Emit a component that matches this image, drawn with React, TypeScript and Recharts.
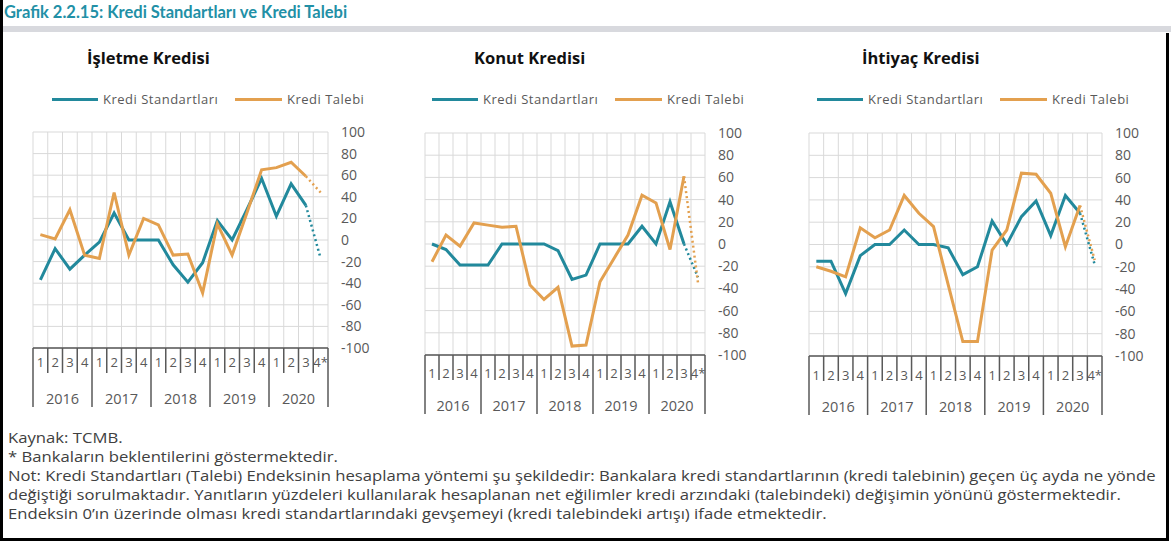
import React from 'react';
import { LineChart, Line, XAxis, YAxis, CartesianGrid } from 'recharts';

const quarterLabels = ['1', '2', '3', '4', '1', '2', '3', '4', '1', '2', '3', '4', '1', '2', '3', '4', '1', '2', '3', '4*'];
const years = ['2016', '2017', '2018', '2019', '2020'];
const yTicks = [-100, -80, -60, -40, -20, 0, 20, 40, 60, 80, 100];

// index 19 (2020 Q4*) is the banks' expectation, drawn dotted
const isletmeStandart = [-37, -8, -27, -14, -2, 25, 0, 0, 0, -23, -39, -21, 18, 0, 28, 57, 22, 52, 32, -17];
const isletmeTalep = [5, 1, 28, -14, -17, 44, -14, 20, 14, -14, -13, -49, 15, -14, 25, 65, 67, 72, 59, 44];
const konutStandart = [0, -5, -19, -19, -19, 0, 0, 0, 0, -6, -32, -28, 0, 0, 0, 16, 0, 38, 0, -30];
const konutTalep = [-16, 8, -2, 19, 17, 15, 16, -37, -50, -39, -92, -91, -34, -13, 8, 44, 37, -5, 61, -35];
const ihtiyacStandart = [-15, -15, -44, -10, 0, 0, 13, 0, 0, -3, -27, -20, 21, 0, 25, 39, 8, 44, 28, -18];
const ihtiyacTalep = [-20, -24, -29, 15, 6, 13, 44, 28, 16, -36, -87, -87, -5, 13, 64, 63, 46, -2, 35, -14];

const TEAL = '#22899c';
const ORANGE = '#e3a04f';
const FONT = '"Open Sans", sans-serif';
const TEXT_GRAY = '#404040';

const gridTicks = quarterLabels.map((_, i) => i - 0.5).concat(quarterLabels.length - 0.5);

type Panel = {
  title: string;
  std: number[];
  talep: number[];
  plotLeft: number;
  plotTop: number;
  plotW: number;
  plotH: number;
  qDy: number;
  titleX: number;
  legendX: number;
};

const panels: Panel[] = [
  { title: 'İşletme Kredisi', std: isletmeStandart, talep: isletmeTalep, plotLeft: 33, plotTop: 132, plotW: 295, plotH: 216, qDy: 14, titleX: 87, legendX: 52 },
  { title: 'Konut Kredisi', std: konutStandart, talep: konutTalep, plotLeft: 425, plotTop: 133, plotW: 280, plotH: 222, qDy: 18, titleX: 474, legendX: 432 },
  { title: 'İhtiyaç Kredisi', std: ihtiyacStandart, talep: ihtiyacTalep, plotLeft: 809, plotTop: 133, plotW: 293, plotH: 223, qDy: 19, titleX: 862, legendX: 817 },
];

const MT = 12;
const ML = 2;
const Y_W = 55;
const X_H = 66;

const makeTick = (step: number, qDy: number) => (props: any) => {
  const { x, y, payload } = props;
  const i = payload.value as number;
  const last = i === quarterLabels.length - 1;
  const yearStart = i % 4 === 0;
  return (
    <g>
      <line x1={x - step / 2} x2={x - step / 2} y1={y} y2={y + (yearStart ? 59 : 25)} stroke="#595959" strokeWidth={1.5} />
      {last && <line x1={x + step / 2} x2={x + step / 2} y1={y} y2={y + 59} stroke="#595959" strokeWidth={1.5} />}
      <text x={x} y={y + qDy} textAnchor="middle" dominantBaseline="central" fontSize={13} fill="#595959" fontFamily={FONT}>
        {quarterLabels[i]}
      </text>
      {yearStart && (
        <text x={x + step * 1.5} y={y + 50} textAnchor="middle" dominantBaseline="central" fontSize={14.5} fill="#595959" fontFamily={FONT}>
          {years[i / 4]}
        </text>
      )}
    </g>
  );
};

const CreditPanel = ({ p }: { p: Panel }) => {
  const n = quarterLabels.length;
  const data = quarterLabels.map((q, i) => ({
    i,
    q,
    std: i < n - 1 ? p.std[i] : null,
    talep: i < n - 1 ? p.talep[i] : null,
    stdExp: i >= n - 2 ? p.std[i] : null,
    talepExp: i >= n - 2 ? p.talep[i] : null,
  }));
  const step = p.plotW / n;
  const width = ML + p.plotW + Y_W;
  const height = MT + p.plotH + X_H;
  return (
    <>
      <div style={{ position: 'absolute', left: p.titleX, top: 46, fontFamily: FONT, fontWeight: 700, fontSize: 16.5, color: '#111', whiteSpace: 'nowrap' }}>
        {p.title}
      </div>
      <div style={{ position: 'absolute', left: p.legendX, top: 90, display: 'flex', alignItems: 'center', fontFamily: FONT, fontSize: 13, letterSpacing: 0.5, color: '#595959', whiteSpace: 'nowrap' }}>
        <span style={{ display: 'inline-block', width: 46, height: 3, background: TEAL, marginRight: 5 }} />
        <span style={{ display: 'inline-block', width: 132 }}>Kredi Standartları</span>
        <span style={{ display: 'inline-block', width: 47, height: 3, background: ORANGE, marginRight: 5 }} />
        <span>Kredi Talebi</span>
      </div>
      <div style={{ position: 'absolute', left: p.plotLeft - ML, top: p.plotTop - MT }}>
        <LineChart width={width} height={height} data={data} margin={{ top: MT, left: ML, right: 0, bottom: 0 }}>
          <CartesianGrid xAxisId="g" stroke="#d9d9d9" strokeWidth={1} />
          <XAxis
            xAxisId="q"
            dataKey="i"
            type="number"
            domain={[-0.5, n - 0.5]}
            ticks={data.map((d) => d.i)}
            interval={0}
            height={X_H}
            tickSize={0}
            tickMargin={0}
            tickLine={false}
            axisLine={{ stroke: '#595959', strokeWidth: 1.5 }}
            tick={makeTick(step, p.qDy)}
          />
          <XAxis xAxisId="g" dataKey="i" type="number" domain={[-0.5, n - 0.5]} ticks={gridTicks} interval={0} height={0} hide />
          <YAxis
            orientation="right"
            domain={[-100, 100]}
            ticks={yTicks}
            interval={0}
            width={Y_W}
            axisLine={false}
            tickLine={false}
            tickSize={0}
            tickMargin={13}
            tick={{ fontSize: 14, fill: '#595959', fontFamily: FONT }}
          />
          <Line xAxisId="q" dataKey="std" stroke={TEAL} strokeWidth={3} dot={false} isAnimationActive={false} />
          <Line xAxisId="q" dataKey="talep" stroke={ORANGE} strokeWidth={3} dot={false} isAnimationActive={false} />
          <Line xAxisId="q" dataKey="stdExp" stroke={TEAL} strokeWidth={2.5} strokeDasharray="2 3" dot={false} isAnimationActive={false} />
          <Line xAxisId="q" dataKey="talepExp" stroke={ORANGE} strokeWidth={2.5} strokeDasharray="2 3" dot={false} isAnimationActive={false} />
        </LineChart>
      </div>
    </>
  );
};

const footerLines = [
  'Kaynak: TCMB.',
  '* Bankaların beklentilerini göstermektedir.',
  'Not: Kredi Standartları (Talebi) Endeksinin hesaplama yöntemi şu şekildedir: Bankalara kredi standartlarının (kredi talebinin) geçen üç ayda ne yönde',
  'değiştiği sorulmaktadır. Yanıtların yüzdeleri kullanılarak hesaplanan net eğilimler kredi arzındaki (talebindeki) değişimin yönünü göstermektedir.',
  'Endeksin 0’ın üzerinde olması kredi standartlarındaki gevşemeyi (kredi talebindeki artışı) ifade etmektedir.',
];

export default function App() {
  return (
    <div style={{ position: 'absolute', left: 0, top: 0, width: 1171, height: 546, background: '#fff', overflow: 'hidden' }}>
      <div style={{ position: 'absolute', left: 4, top: 2, fontFamily: 'Lato, sans-serif', fontWeight: 700, fontSize: 16.5, color: '#2290a6', whiteSpace: 'nowrap' }}>
        Grafik 2.2.15: Kredi Standartları ve Kredi Talebi
      </div>
      <div style={{ position: 'absolute', left: 3, top: 26, width: 1168, height: 6, background: '#d8d9de' }} />
      <div style={{ position: 'absolute', left: 0, top: 0, width: 3, height: 541, background: '#000' }} />
      <div style={{ position: 'absolute', left: 1166, top: 33, width: 3, height: 508, background: '#000' }} />
      <div style={{ position: 'absolute', left: 0, top: 538, width: 1169, height: 3, background: '#000' }} />
      {panels.map((p) => (
        <CreditPanel key={p.title} p={p} />
      ))}
      <div style={{ position: 'absolute', left: 8, top: 428, fontFamily: FONT, fontSize: 14, lineHeight: '19px', color: TEXT_GRAY, whiteSpace: 'nowrap', transform: 'scaleX(1.19)', transformOrigin: 'left top' }}>
        {footerLines.map((l) => (
          <div key={l}>{l}</div>
        ))}
      </div>
    </div>
  );
}
